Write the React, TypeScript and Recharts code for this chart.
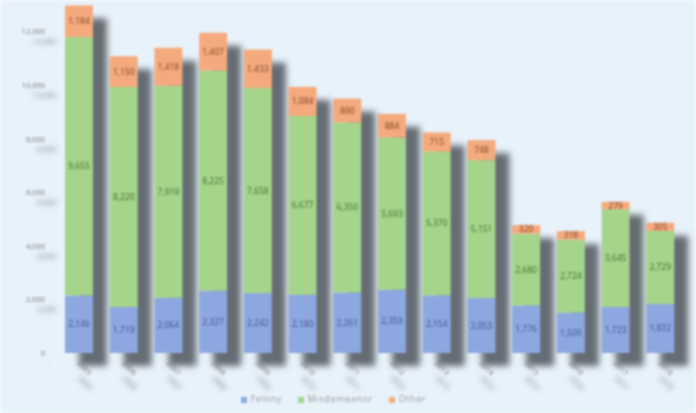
import { BarChart, Bar, XAxis, YAxis, Legend, LabelList } from 'recharts';

const years = ['2005', '2006', '2007', '2008', '2009', '2010', '2011', '2012', '2013', '2014', '2015', '2016', '2017', '2018'];
const felony = [2146, 1719, 2064, 2327, 2242, 2180, 2261, 2359, 2154, 2053, 1776, 1509, 1723, 1832];
const misdemeanor = [9655, 8220, 7919, 8225, 7658, 6677, 6350, 5693, 5370, 5151, 2680, 2724, 3645, 2729];
const other = [1184, 1150, 1418, 1407, 1433, 1084, 890, 884, 715, 748, 320, 318, 279, 305];
const yTicks = [0, 2000, 4000, 6000, 8000, 10000, 12000];

const data = years.map((year, i) => ({
  year,
  felony: felony[i],
  misdemeanor: misdemeanor[i],
  other: other[i],
}));

const BLUE = '#8da7e0';
const GREEN = '#a5d58b';
const ORANGE = '#f5aa7d';
const FONT = '"Open Sans", "Liberation Sans", sans-serif';

const fmt = (v: any) => (typeof v === 'number' ? v.toLocaleString('en-US') : v);

// bottom segment also paints the drop shadow for the whole stack
const FelonyShape = (props: any) => {
  const { x, y, width, height, payload } = props;
  const total = payload.felony + payload.misdemeanor + payload.other;
  const th = total * (height / payload.felony);
  const top = y + height - th;
  return (
    <g>
      <rect x={x + 14} y={top + 13} width={width} height={th} fill="#656c73" filter="url(#barBlur)" />
      <rect x={x} y={y} width={width} height={height} fill={BLUE} />
    </g>
  );
};

const XTick = (props: any) => {
  const { x, y, payload } = props;
  return (
    <g transform={`translate(${x},${y})`}>
      <text x={0} y={0} dy={4} textAnchor="start" transform="rotate(45)" fontSize={7.5} fill="#7a7a7a" fontFamily={FONT} filter="url(#textShadow)">
        {payload.value}
      </text>
    </g>
  );
};

export default function App() {
  return (
    <div style={{ width: 696, height: 413, background: '#e8f2fa', filter: 'blur(0.8px)' }}>
      <style>{'body{margin:0}'}</style>
      <BarChart
        width={696}
        height={413}
        data={data}
        margin={{ top: 5, right: 13, left: 0, bottom: 8 }}
        barSize={28}
      >
        <defs>
          <filter id="barBlur" x="-50%" y="-10%" width="200%" height="120%">
            <feGaussianBlur stdDeviation="3" />
          </filter>
          <filter id="textShadow" x="-50%" y="-100%" width="250%" height="400%">
            <feDropShadow dx="11" dy="10" stdDeviation="2.5" floodColor="#5d646b" floodOpacity="0.9" />
          </filter>
        </defs>
        <XAxis dataKey="year" axisLine={false} tickLine={false} height={39} interval={0} tick={<XTick />} />
        <YAxis
          domain={[0, 13000]}
          ticks={yTicks}
          width={57}
          axisLine={false}
          tickLine={false}
          tickMargin={6}
          tickFormatter={fmt}
          tick={{ fontSize: 7.5, fill: '#7a7a7a', fontFamily: FONT, filter: 'url(#textShadow)' }}
        />
        <Legend
          verticalAlign="bottom"
          iconType="square"
          iconSize={6}
          wrapperStyle={{ fontSize: 9, fontFamily: FONT, letterSpacing: 0.6 }}
          formatter={(value) => <span style={{ color: '#9a9a9a', marginRight: 6 }}>{value}</span>}
        />
        <Bar dataKey="felony" name="Felony" stackId="a" fill={BLUE} shape={<FelonyShape />} isAnimationActive={false}>
          <LabelList dataKey="felony" position="center" formatter={fmt} fontSize={8.5} fill="#3d5590" fontFamily={FONT} />
        </Bar>
        <Bar dataKey="misdemeanor" name="Misdemeanor" stackId="a" fill={GREEN} isAnimationActive={false}>
          <LabelList dataKey="misdemeanor" position="center" formatter={fmt} fontSize={8.5} fill="#3f6a2c" fontFamily={FONT} />
        </Bar>
        <Bar dataKey="other" name="Other" stackId="a" fill={ORANGE} isAnimationActive={false}>
          <LabelList dataKey="other" position="center" formatter={fmt} fontSize={8.5} fill="#7a3f1e" fontFamily={FONT} />
        </Bar>
      </BarChart>
    </div>
  );
}
